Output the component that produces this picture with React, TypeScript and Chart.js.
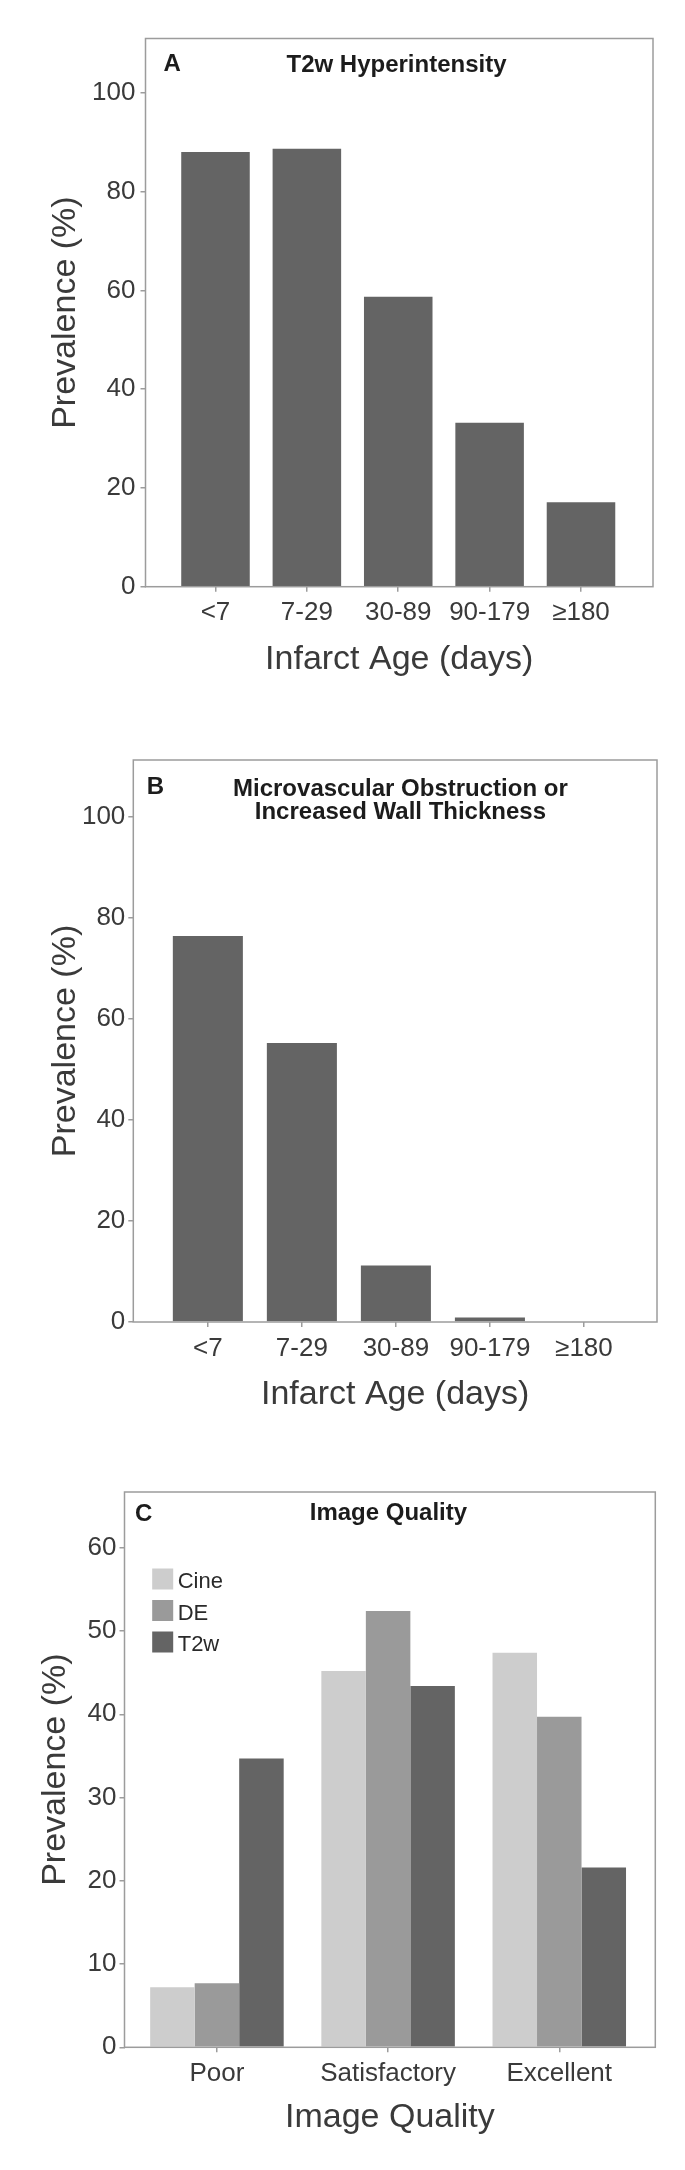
import React, { useEffect, useRef } from 'react';
import { Chart, registerables } from 'chart.js';

Chart.register(...registerables);

// ---------- data ----------
const infarctAges = ['<7', '7-29', '30-89', '90-179', '≥180'];
const t2wHyperintensity = [88.0, 88.7, 58.7, 33.2, 17.1];
const mvoOrWallThickness = [76.4, 55.2, 11.2, 0.9, 0];

const qualityLevels = ['Poor', 'Satisfactory', 'Excellent'];
const qualitySeries = ['Cine', 'DE', 'T2w'];
const cineQuality = [7.2, 45.2, 47.4];
const deQuality = [7.7, 52.4, 39.7];
const t2wQuality = [34.7, 43.4, 21.6];

const prevalenceTicksAB = [0, 20, 40, 60, 80, 100];
const prevalenceTicksC = [0, 10, 20, 30, 40, 50, 60];

// ---------- styles ----------
const FONT = '"Liberation Sans", Arial, Helvetica, sans-serif';
const TEXT = '#3a3a3a';
const BOLD_TEXT = '#1c1c1c';
const FRAME = '#9c9c9c';
const DARK = '#646464';
const MID = '#9a9a9a';
const LIGHT = '#cdcdcd';

const W = 685;
const TITLE_SIZE = 34;
const TITLE_LH = TITLE_SIZE * 1.2;

type Spec = {
  top: number;
  height: number;
  frame: { left: number; top: number; right: number; bottom: number };
  yMax: number;
  yTicks: number[];
  xMin: number;
  xMax: number;
  labels: string[];
  datasets: any[];
  categoryPercentage: number;
  barPercentage: number;
  yTickPad: number;
  xTitle: string;
  xTitleOffset: number;
  yTitleX: number;
  letter: string;
  letterX: number;
  letterY: number;
  titleLines: string[];
  titleX: number;
  titleY: number;
  legend: boolean;
};

const specs: Spec[] = [
  {
    top: 0,
    height: 700,
    frame: { left: 145.5, top: 38.5, right: 653, bottom: 586.7 },
    yMax: 111,
    yTicks: prevalenceTicksAB,
    xMin: -0.766,
    xMax: 4.788,
    labels: infarctAges,
    datasets: [{ label: 'T2w Hyperintensity', data: t2wHyperintensity, backgroundColor: DARK }],
    categoryPercentage: 1,
    barPercentage: 0.75,
    yTickPad: 5,
    xTitle: 'Infarct Age (days)',
    xTitleOffset: 73.3,
    yTitleX: 65.5,
    letter: 'A',
    letterX: 163.5,
    letterY: 64.5,
    titleLines: ['T2w Hyperintensity'],
    titleX: 396.5,
    titleY: 65.5,
    legend: false,
  },
  {
    top: 700,
    height: 740,
    frame: { left: 133.3, top: 60, right: 657, bottom: 622 },
    yMax: 111.2,
    yTicks: prevalenceTicksAB,
    xMin: -0.793,
    xMax: 4.777,
    labels: infarctAges,
    datasets: [{ label: 'Microvascular Obstruction or Increased Wall Thickness', data: mvoOrWallThickness, backgroundColor: DARK }],
    categoryPercentage: 1,
    barPercentage: 0.745,
    yTickPad: 3,
    xTitle: 'Infarct Age (days)',
    xTitleOffset: 73,
    yTitleX: 65.5,
    letter: 'B',
    letterX: 146.7,
    letterY: 87.5,
    titleLines: ['Microvascular Obstruction or', 'Increased Wall Thickness'],
    titleX: 400.4,
    titleY: 89,
    legend: false,
  },
  {
    top: 1440,
    height: 730,
    frame: { left: 124.5, top: 52, right: 655.3, bottom: 607.3 },
    yMax: 66.7,
    yTicks: prevalenceTicksC,
    xMin: -0.54,
    xMax: 2.561,
    labels: qualityLevels,
    datasets: [
      { label: qualitySeries[0], data: cineQuality, backgroundColor: LIGHT },
      { label: qualitySeries[1], data: deQuality, backgroundColor: MID },
      { label: qualitySeries[2], data: t2wQuality, backgroundColor: DARK },
    ],
    categoryPercentage: 0.78,
    barPercentage: 1,
    yTickPad: 3,
    xTitle: 'Image Quality',
    xTitleOffset: 70,
    yTitleX: 55.8,
    letter: 'C',
    letterX: 135,
    letterY: 74,
    titleLines: ['Image Quality'],
    titleX: 388.4,
    titleY: 73,
    legend: true,
  },
];

function buildConfig(spec: Spec): any {
  const xH = spec.xTitleOffset + TITLE_LH / 2 + 4;
  const padBottom = spec.height - spec.frame.bottom - xH;

  const decor = {
    id: 'decor-' + spec.letter,
    afterDatasetsDraw(chart: any) {
      const { ctx, chartArea: a } = chart;
      ctx.save();
      ctx.strokeStyle = FRAME;
      ctx.lineWidth = 1.5;
      ctx.strokeRect(a.left, a.top, a.right - a.left, a.bottom - a.top);

      ctx.fillStyle = BOLD_TEXT;
      ctx.font = `bold 24px ${FONT}`;
      ctx.textBaseline = 'middle';
      ctx.textAlign = 'left';
      ctx.fillText(spec.letter, spec.letterX, spec.letterY);
      ctx.textAlign = 'center';
      spec.titleLines.forEach((t, i) => ctx.fillText(t, spec.titleX, spec.titleY + i * 23));

      if (spec.legend) {
        const bx = a.left + 27.7;
        const by = a.top + 76.5;
        ctx.font = `22px ${FONT}`;
        ctx.textAlign = 'left';
        chart.data.datasets.forEach((ds: any, i: number) => {
          const y = by + i * 31.5;
          ctx.fillStyle = ds.backgroundColor;
          ctx.fillRect(bx, y, 21, 21);
          ctx.fillStyle = '#2a2a2a';
          ctx.fillText(ds.label, bx + 25.5, y + 13.5);
        });
      }
      ctx.restore();
    },
  };

  return {
    type: 'bar',
    data: {
      datasets: spec.datasets.map((ds) => ({
        ...ds,
        data: ds.data.map((v: number, i: number) => ({ x: i, y: v })),
        borderWidth: 0,
        categoryPercentage: spec.categoryPercentage,
        barPercentage: spec.barPercentage,
      })),
    },
    plugins: [decor],
    options: {
      animation: false,
      responsive: false,
      maintainAspectRatio: false,
      events: [],
      layout: {
        padding: { left: 0, top: spec.frame.top, right: W - spec.frame.right, bottom: padBottom },
      },
      plugins: {
        legend: { display: false },
        tooltip: { enabled: false },
        title: { display: false },
      },
      scales: {
        x: {
          type: 'linear',
          offset: false,
          min: spec.xMin,
          max: spec.xMax,
          afterBuildTicks: (s: any) => {
            s.ticks = spec.labels.map((_, i) => ({ value: i }));
          },
          afterFit: (s: any) => {
            s.height = xH;
          },
          grid: { display: true, offset: false, drawOnChartArea: false, drawTicks: true, tickLength: 5, color: FRAME, lineWidth: 1.5 },
          border: { display: false },
          ticks: {
            autoSkip: false,
            maxRotation: 0,
            minRotation: 0,
            padding: 6,
            color: TEXT,
            font: { family: FONT, size: 26 },
            callback: (v: any) => spec.labels[Math.round(Number(v))] ?? '',
          },
          title: {
            display: true,
            text: spec.xTitle,
            color: TEXT,
            font: { family: FONT, size: TITLE_SIZE },
            padding: { top: 0, bottom: 4 },
          },
        },
        y: {
          type: 'linear',
          min: 0,
          max: spec.yMax,
          afterBuildTicks: (s: any) => {
            s.ticks = spec.yTicks.map((v) => ({ value: v }));
          },
          afterFit: (s: any) => {
            s.width = spec.frame.left;
          },
          grid: { display: true, drawOnChartArea: false, drawTicks: true, tickLength: 5, color: FRAME, lineWidth: 1.5 },
          border: { display: false },
          ticks: {
            padding: spec.yTickPad,
            color: TEXT,
            font: { family: FONT, size: 26 },
          },
          title: {
            display: true,
            text: 'Prevalence (%)',
            color: TEXT,
            font: { family: FONT, size: TITLE_SIZE },
            padding: { top: spec.yTitleX - TITLE_LH / 2, bottom: 0 },
          },
        },
      },
    },
  };
}

function Panel({ spec }: { spec: Spec }) {
  const ref = useRef<HTMLCanvasElement>(null);
  useEffect(() => {
    if (!ref.current) return;
    const chart = new Chart(ref.current, buildConfig(spec));
    return () => chart.destroy();
  }, [spec]);
  return (
    <canvas
      ref={ref}
      width={W}
      height={spec.height}
      style={{ position: 'absolute', left: 0, top: spec.top, width: W, height: spec.height, display: 'block' }}
    />
  );
}

export default function App() {
  return (
    <div style={{ position: 'absolute', left: 0, top: 0, width: W, height: 2170, background: '#ffffff', overflow: 'hidden' }}>
      {specs.map((s) => (
        <Panel key={s.letter} spec={s} />
      ))}
    </div>
  );
}
